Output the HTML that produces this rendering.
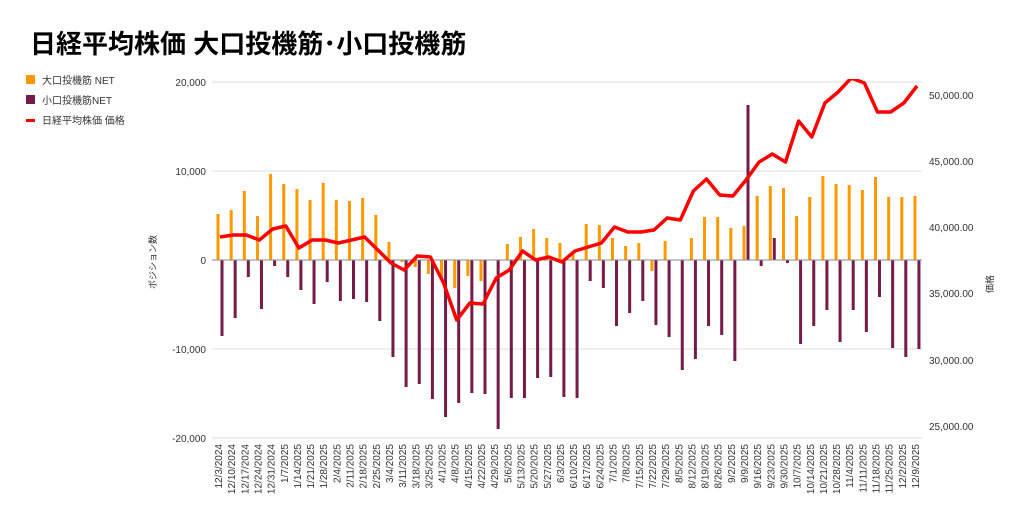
<!DOCTYPE html>
<html><head><meta charset="utf-8"><style>
body{margin:0;background:#fff;}
svg{display:block;font-family:"Liberation Sans","Noto Sans CJK JP",sans-serif;}
</style></head><body>
<svg id="s" width="1024" height="520" viewBox="0 0 1024 520">
<text x="30" y="53" font-size="26" font-weight="bold" fill="#000">日経平均株価 大口投機筋･小口投機筋</text>
<rect x="26" y="75" width="9" height="9" fill="#FF9900"/>
<text x="42" y="84" font-size="10" fill="#333">大口投機筋  NET</text>
<rect x="26" y="95" width="9" height="9" fill="#741B47"/>
<text x="42" y="104" font-size="10" fill="#333">小口投機筋NET</text>
<rect x="26" y="119" width="9" height="3" fill="#FF0000"/>
<text x="42" y="124" font-size="10" fill="#333">日経平均株価 価格</text>
<g stroke="#ddd" stroke-width="1">
<line x1="212" x2="922" y1="82" y2="82"/><line x1="212" x2="922" y1="171" y2="171"/>
<line x1="212" x2="922" y1="349" y2="349"/><line x1="212" x2="922" y1="438" y2="438"/>
</g>
<g font-size="10" fill="#333" text-anchor="end">
<text x="206" y="86">20,000</text><text x="206" y="175">10,000</text><text x="206" y="264">0</text>
<text x="206" y="353">-10,000</text><text x="206" y="442">-20,000</text>
</g>
<g font-size="10" fill="#333">
<text x="929" y="99">50,000.00</text><text x="929" y="165">45,000.00</text><text x="929" y="231">40,000.00</text>
<text x="929" y="297">35,000.00</text><text x="929" y="364">30,000.00</text><text x="929" y="430">25,000.00</text>
</g>
<text transform="translate(156,262) rotate(-90)" font-size="9" fill="#333" text-anchor="middle">ポジション数</text>
<text transform="translate(993,284) rotate(-90)" font-size="9" fill="#333" text-anchor="middle">価格</text>
<g id="bars"></g>
<line x1="212" x2="922" y1="260" y2="260" stroke="#888" stroke-width="1"/>
<clipPath id="c"><rect x="200" y="79" width="740" height="380"/></clipPath>
<polyline id="ln" clip-path="url(#c)" fill="none" stroke="#FF0000" stroke-width="3.5" stroke-linejoin="round"/>
<g id="dl" font-size="10" fill="#333" text-anchor="end">
<text transform="translate(222,444) rotate(-90)">12/3/2024</text>
<text transform="translate(235.2,444) rotate(-90)">12/10/2024</text>
<text transform="translate(248.3,444) rotate(-90)">12/17/2024</text>
<text transform="translate(261.5,444) rotate(-90)">12/24/2024</text>
<text transform="translate(274.6,444) rotate(-90)">12/31/2024</text>
<text transform="translate(287.8,444) rotate(-90)">1/7/2025</text>
<text transform="translate(300.9,444) rotate(-90)">1/14/2025</text>
<text transform="translate(314.1,444) rotate(-90)">1/21/2025</text>
<text transform="translate(327.2,444) rotate(-90)">1/28/2025</text>
<text transform="translate(340.4,444) rotate(-90)">2/4/2025</text>
<text transform="translate(353.5,444) rotate(-90)">2/11/2025</text>
<text transform="translate(366.7,444) rotate(-90)">2/18/2025</text>
<text transform="translate(379.8,444) rotate(-90)">2/25/2025</text>
<text transform="translate(393,444) rotate(-90)">3/4/2025</text>
<text transform="translate(406.1,444) rotate(-90)">3/11/2025</text>
<text transform="translate(419.3,444) rotate(-90)">3/18/2025</text>
<text transform="translate(432.4,444) rotate(-90)">3/25/2025</text>
<text transform="translate(445.6,444) rotate(-90)">4/1/2025</text>
<text transform="translate(458.7,444) rotate(-90)">4/8/2025</text>
<text transform="translate(471.9,444) rotate(-90)">4/15/2025</text>
<text transform="translate(485,444) rotate(-90)">4/22/2025</text>
<text transform="translate(498.2,444) rotate(-90)">4/29/2025</text>
<text transform="translate(511.3,444) rotate(-90)">5/6/2025</text>
<text transform="translate(524.5,444) rotate(-90)">5/13/2025</text>
<text transform="translate(537.6,444) rotate(-90)">5/20/2025</text>
<text transform="translate(550.8,444) rotate(-90)">5/27/2025</text>
<text transform="translate(563.9,444) rotate(-90)">6/3/2025</text>
<text transform="translate(577.1,444) rotate(-90)">6/10/2025</text>
<text transform="translate(590.2,444) rotate(-90)">6/17/2025</text>
<text transform="translate(603.4,444) rotate(-90)">6/24/2025</text>
<text transform="translate(616.5,444) rotate(-90)">7/1/2025</text>
<text transform="translate(629.7,444) rotate(-90)">7/8/2025</text>
<text transform="translate(642.8,444) rotate(-90)">7/15/2025</text>
<text transform="translate(656,444) rotate(-90)">7/22/2025</text>
<text transform="translate(669.1,444) rotate(-90)">7/29/2025</text>
<text transform="translate(682.3,444) rotate(-90)">8/5/2025</text>
<text transform="translate(695.4,444) rotate(-90)">8/12/2025</text>
<text transform="translate(708.6,444) rotate(-90)">8/19/2025</text>
<text transform="translate(721.7,444) rotate(-90)">8/26/2025</text>
<text transform="translate(734.9,444) rotate(-90)">9/2/2025</text>
<text transform="translate(748,444) rotate(-90)">9/9/2025</text>
<text transform="translate(761.2,444) rotate(-90)">9/16/2025</text>
<text transform="translate(774.3,444) rotate(-90)">9/23/2025</text>
<text transform="translate(787.5,444) rotate(-90)">9/30/2025</text>
<text transform="translate(800.6,444) rotate(-90)">10/7/2025</text>
<text transform="translate(813.8,444) rotate(-90)">10/14/2025</text>
<text transform="translate(826.9,444) rotate(-90)">10/21/2025</text>
<text transform="translate(840.1,444) rotate(-90)">10/28/2025</text>
<text transform="translate(853.2,444) rotate(-90)">11/4/2025</text>
<text transform="translate(866.4,444) rotate(-90)">11/11/2025</text>
<text transform="translate(879.5,444) rotate(-90)">11/18/2025</text>
<text transform="translate(892.7,444) rotate(-90)">11/25/2025</text>
<text transform="translate(905.8,444) rotate(-90)">12/2/2025</text>
<text transform="translate(919,444) rotate(-90)">12/9/2025</text>
</g>
</svg>
<script>
var O=[214,210,191,216,174,184,189,200,183,200,201,198,215,242,262,267,274,278,288,276,281,260,244,237,229,238,243,254,224,225,238,246,243,271,241,260,238,217,217,228,226,196,186,188,216,197,176,184,185,190,177,197,197,196];
var M=[336,318,277,309,266,277,290,304,282,301,299,302,321,357,387,384,399,417,403,393,394,429,398,398,378,377,397,398,281,288,326,313,301,325,337,370,359,326,335,361,105,266,238,263,344,326,310,342,310,332,297,348,357,349];
var L=[237,235,235,240,229,226,248,240,240,243,240,237,250,263,270,256,257,283,320,303,304,278,270,251,260,257,262,251,247,243,227,232,232,230,218,220,191,179,195,196,180,162,154,162,121,137,103,92,78,83,112,112,103,86];
var ns="http://www.w3.org/2000/svg",g=document.getElementById("bars"),pts=[];
function r(x,y,c){var e=document.createElementNS(ns,"rect");var t=Math.min(y,260),h=Math.abs(y-260);if(h<0.5)return;e.setAttribute("x",x-1.5);e.setAttribute("y",t);e.setAttribute("width",3);e.setAttribute("height",h);e.setAttribute("fill",c);g.appendChild(e);}
for(var i=0;i<54;i++){var x=218+13.15*i;r(x,O[i],"#FF9900");r(x+4,M[i],"#741B47");pts.push((x+2).toFixed(1)+","+L[i]);}
document.getElementById("ln").setAttribute("points",pts.join(" "));
</script>
</body></html>
